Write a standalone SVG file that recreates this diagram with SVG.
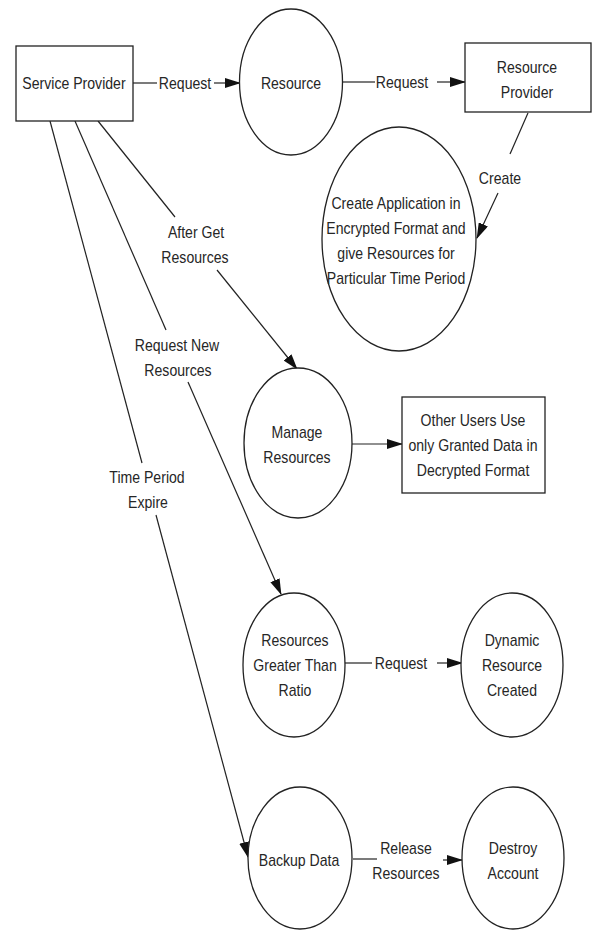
<svg xmlns="http://www.w3.org/2000/svg" width="592" height="931" viewBox="0 0 592 931">
  <style>
    .node { fill: #ffffff; stroke: #222222; stroke-width: 1.3; }
    .edge { fill: none; stroke: #222222; stroke-width: 1.2; }
    text { font-family: "Liberation Sans", Arial, sans-serif; font-size: 16px; fill: #262626; text-anchor: middle;
           transform-box: fill-box; transform-origin: center; transform: scaleX(0.88); }
  </style>
  <defs>
    <marker id="arrow" markerUnits="userSpaceOnUse" markerWidth="16" markerHeight="10" refX="15" refY="5" orient="auto">
      <path d="M0,0 L16,5 L0,10 Z" fill="#111111"/>
    </marker>
  </defs>
  <rect width="592" height="931" fill="#ffffff"/>

  <!-- connectors -->
  <g id="connectors">
    <!-- Service Provider -> Resource -->
    <line class="edge" x1="133" y1="83" x2="157" y2="83"/>
    <line class="edge" x1="214" y1="83" x2="240" y2="83" marker-end="url(#arrow)"/>
    <text x="185" y="89">Request</text>

    <!-- Resource -> Resource Provider -->
    <line class="edge" x1="343" y1="82" x2="375" y2="82"/>
    <line class="edge" x1="437" y1="82" x2="465" y2="82" marker-end="url(#arrow)"/>
    <text x="402" y="88">Request</text>

    <!-- Resource Provider -> Create Application -->
    <line class="edge" x1="528" y1="113" x2="510" y2="154"/>
    <line class="edge" x1="498" y1="193" x2="477" y2="238" marker-end="url(#arrow)"/>
    <text x="500" y="184">Create</text>

    <!-- Service Provider -> Manage Resources -->
    <line class="edge" x1="98" y1="121" x2="175" y2="217"/>
    <line class="edge" x1="217" y1="270" x2="297" y2="369" marker-end="url(#arrow)"/>
    <text x="196" y="238">After Get</text>
    <text x="195" y="263">Resources</text>

    <!-- Manage Resources -> Other Users -->
    <line class="edge" x1="352" y1="444" x2="402" y2="444" marker-end="url(#arrow)"/>

    <!-- Service Provider -> Resources Greater Than Ratio -->
    <line class="edge" x1="75" y1="121" x2="166" y2="330"/>
    <line class="edge" x1="188" y1="382" x2="281" y2="594" marker-end="url(#arrow)"/>
    <text x="177" y="351">Request New</text>
    <text x="178" y="376">Resources</text>

    <!-- Resources Greater Than Ratio -> Dynamic Resource -->
    <line class="edge" x1="345" y1="663" x2="372" y2="663"/>
    <line class="edge" x1="437" y1="663" x2="462" y2="663" marker-end="url(#arrow)"/>
    <text x="401" y="669">Request</text>

    <!-- Service Provider -> Backup Data -->
    <line class="edge" x1="50" y1="121" x2="142" y2="463"/>
    <line class="edge" x1="156" y1="515" x2="248" y2="857" marker-end="url(#arrow)"/>
    <text x="147" y="483">Time Period</text>
    <text x="148" y="508">Expire</text>

    <!-- Backup Data -> Destroy Account -->
    <line class="edge" x1="353" y1="859" x2="377" y2="859"/>
    <line class="edge" x1="443" y1="860" x2="462" y2="860" marker-end="url(#arrow)"/>
    <text x="406" y="854">Release</text>
    <text x="406" y="879">Resources</text>
  </g>

  <!-- nodes -->
  <g id="service-provider">
    <rect class="node" x="16" y="46" width="117" height="75"/>
    <text x="74" y="89">Service Provider</text>
  </g>

  <g id="resource">
    <ellipse class="node" cx="291" cy="82" rx="51.5" ry="73"/>
    <text x="291" y="89">Resource</text>
  </g>

  <g id="resource-provider">
    <rect class="node" x="465" y="43" width="126" height="69"/>
    <text x="527" y="73">Resource</text>
    <text x="527" y="98">Provider</text>
  </g>

  <g id="create-application">
    <ellipse class="node" cx="399" cy="239" rx="77" ry="112"/>
    <text x="396" y="209">Create Application in</text>
    <text x="396" y="234">Encrypted Format and</text>
    <text x="396" y="259">give Resources for</text>
    <text x="396" y="284">Particular Time Period</text>
  </g>

  <g id="manage-resources">
    <ellipse class="node" cx="298" cy="443" rx="54" ry="75"/>
    <text x="297" y="438">Manage</text>
    <text x="297" y="463">Resources</text>
  </g>

  <g id="other-users">
    <rect class="node" x="402" y="397" width="143" height="96"/>
    <text x="473" y="426">Other Users Use</text>
    <text x="473" y="451">only Granted Data in</text>
    <text x="473" y="476">Decrypted Format</text>
  </g>

  <g id="resources-greater">
    <ellipse class="node" cx="294" cy="665" rx="51" ry="72"/>
    <text x="295" y="646">Resources</text>
    <text x="295" y="671">Greater Than</text>
    <text x="295" y="696">Ratio</text>
  </g>

  <g id="dynamic-resource">
    <ellipse class="node" cx="512" cy="665" rx="51" ry="72"/>
    <text x="512" y="646">Dynamic</text>
    <text x="512" y="671">Resource</text>
    <text x="512" y="696">Created</text>
  </g>

  <g id="backup-data">
    <ellipse class="node" cx="300" cy="858" rx="52" ry="71"/>
    <text x="299" y="866">Backup Data</text>
  </g>

  <g id="destroy-account">
    <ellipse class="node" cx="513" cy="858" rx="51" ry="71"/>
    <text x="513" y="854">Destroy</text>
    <text x="513" y="879">Account</text>
  </g>
</svg>
